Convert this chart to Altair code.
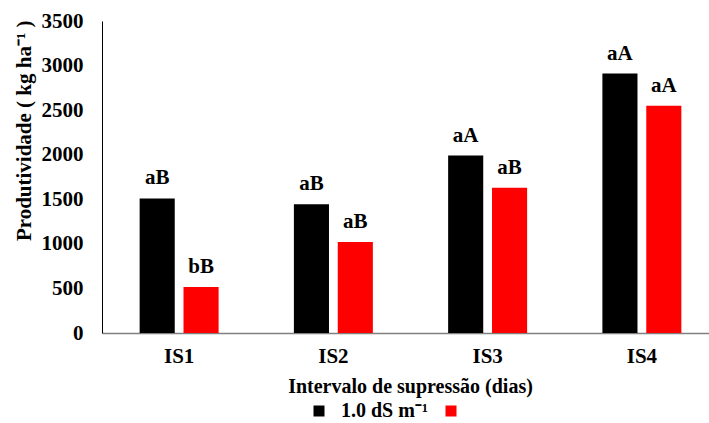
import altair as alt
import pandas as pd

categories = ["IS1", "IS2", "IS3", "IS4"]
series_names = ["1.0 dS m⁻¹", " "]
black_vals = [1510, 1445, 1990, 2910]
red_vals = [515, 1020, 1630, 2550]
black_labels = ["aB", "aB", "aA", "aA"]
red_labels = ["bB", "aB", "aB", "aA"]
colors = ["#000000", "#FF0000"]
y_ticks = [0, 500, 1000, 1500, 2000, 2500, 3000, 3500]

rows = []
for c, v, l in zip(categories, black_vals, black_labels):
    rows.append({"cat": c, "series": series_names[0], "value": v, "label": l})
for c, v, l in zip(categories, red_vals, red_labels):
    rows.append({"cat": c, "series": series_names[1], "value": v, "label": l})
df = pd.DataFrame(rows)

FONT = "Liberation Serif, Times New Roman, Times, serif"

x_enc = alt.X(
    "cat:N",
    sort=categories,
    scale=alt.Scale(range=[0, 617], paddingInner=0.488, paddingOuter=0.244),
    axis=alt.Axis(
        title="Intervalo de supressão (dias)",
        labelAngle=0,
        ticks=False,
        domainColor="#808080",
        domainWidth=1.5,
        labelFontSize=21,
        labelPadding=12,
        titleFontSize=20,
        titleX=308,
        titleY=53,
        titleBaseline="middle",
    ),
)
xo_enc = alt.XOffset("series:N", sort=series_names,
                     scale=alt.Scale(paddingInner=0.2, paddingOuter=0))
y_enc = alt.Y(
    "value:Q",
    scale=alt.Scale(domain=[0, 3500], nice=False),
    axis=alt.Axis(
        title="Produtividade ( kg ha⁻¹ )",
        values=y_ticks,
        format="d",
        ticks=False,
        grid=False,
        domainColor="#000000",
        domainWidth=1,
        labelFontSize=21,
        labelPadding=19,
        titleFontSize=21,
        titleX=-78,
        titleY=-1,
        titleAlign="right",
        titleBaseline="middle",
        titleAngle=270,
    ),
)

bars = alt.Chart(df).mark_bar(opacity=1).encode(
    x=x_enc,
    xOffset=xo_enc,
    y=y_enc,
    color=alt.Color(
        "series:N",
        scale=alt.Scale(domain=series_names, range=colors),
        legend=alt.Legend(
            orient="none",
            legendX=207,
            legendY=380,
            direction="horizontal",
            title=None,
            symbolType="square",
            symbolSize=121,
            symbolStrokeWidth=0,
            symbolOpacity=1,
            labelFontSize=20,
            labelFont=FONT,
            labelFontWeight="bold",
            labelColor="#000000",
            labelOffset=12,
            columnPadding=13,
            padding=0,
        ),
    ),
)

text = alt.Chart(df).mark_text(
    baseline="alphabetic", dy=-14, fontSize=21, fontWeight="bold", font=FONT, color="#000000"
).encode(
    x=x_enc,
    xOffset=xo_enc,
    y=alt.Y("value:Q"),
    text="label:N",
)

chart = alt.layer(bars, text).properties(
    width=607,
    height=312,
    autosize=alt.AutoSizeParams(type="none"),
    padding={"left": 102, "top": 21, "right": 0, "bottom": 90},
    background="white",
).configure_axis(
    labelFont=FONT,
    titleFont=FONT,
    labelFontWeight="bold",
    titleFontWeight="bold",
    labelColor="#000000",
    titleColor="#000000",
).configure_legend(
    labelFont=FONT,
).configure_text(
    font=FONT,
).configure_view(stroke=None)

chart.save("out.html", embed_options={"renderer": "svg", "actions": False})
